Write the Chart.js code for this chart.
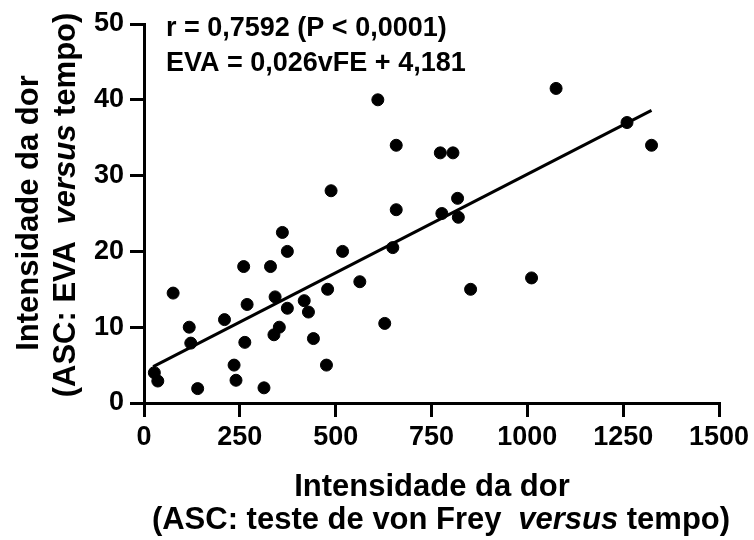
<!DOCTYPE html>
<html lang="pt">
<head>
<meta charset="UTF-8">
<title>Intensidade da dor</title>
<script src="https://cdn.jsdelivr.net/npm/chart.js"></script>
<style>
  html, body { margin: 0; padding: 0; background: #fff; }
  #chart { display: block; }
</style>
</head>
<body>
<canvas id="chart" width="754" height="540"></canvas>
<script>
// dados: vFE (x) e EVA (y)
const vfe = [27, 36, 76, 118, 122, 140, 210, 235, 240, 260, 269, 263, 313, 330, 361,
             374, 342, 374, 353, 339, 418, 429, 442, 479, 476, 518, 488, 658, 649, 563,
             852, 628, 777, 818, 820, 773, 806, 610, 658, 1075, 1260, 1324, 1011];
const eva = [4, 2.9, 14.5, 10, 7.9, 1.9, 11, 5, 3, 18, 13, 8, 2, 18, 22.5,
             20, 14, 12.5, 10, 9, 13.5, 12, 8.5, 15, 5, 20, 28, 25.5, 20.5, 16,
             15, 10.5, 25, 27, 24.5, 33, 33, 40, 34, 41.5, 37, 34, 16.5];
// reta de regressão (extremos)
const lineX = [24, 1324];
const lineY = [4.8, 38.6];
const xTicks = [0, 250, 500, 750, 1000, 1250, 1500];
const yTicks = [0, 10, 20, 30, 40, 50];
const stats = ['r = 0,7592 (P < 0,0001)', 'EVA = 0,026vFE + 4,181'];

const FONT = '"Liberation Sans", Arial, Helvetica, sans-serif';

const points = vfe.map((v, i) => ({ x: v, y: eva[i] }));
const fit = lineX.map((v, i) => ({ x: v, y: lineY[i] }));

// desenha uma linha com partes em itálico, centrada em (0,0)
function mixedLine(ctx, parts, size) {
  let total = 0;
  const widths = parts.map(p => {
    ctx.font = (p.i ? 'italic ' : '') + 'bold ' + size + 'px ' + FONT;
    const w = ctx.measureText(p.t).width + (p.gap || 0);
    total += w;
    return w;
  });
  let x = -total / 2;
  parts.forEach((p, k) => {
    ctx.font = (p.i ? 'italic ' : '') + 'bold ' + size + 'px ' + FONT;
    ctx.fillText(p.t, x + (p.gap || 0), 0);
    x += widths[k];
  });
}

const labels = {
  id: 'labels',
  afterDraw(chart) {
    const ctx = chart.ctx;
    ctx.save();
    ctx.fillStyle = '#000';
    ctx.textBaseline = 'alphabetic';
    ctx.textAlign = 'left';

    // texto estatístico
    ctx.font = 'bold 27px ' + FONT;
    ctx.fillText(stats[0], 166, 36);
    ctx.fillText(stats[1], 166, 71);

    // título eixo x
    ctx.save();
    ctx.translate(432, 496);
    mixedLine(ctx, [{ t: 'Intensidade da dor' }], 31);
    ctx.restore();
    ctx.save();
    ctx.translate(441, 529);
    mixedLine(ctx, [{ t: '(ASC: teste de von Frey ' }, { t: 'versus', i: true, gap: 8 }, { t: ' tempo)' }], 31);
    ctx.restore();

    // título eixo y
    ctx.save();
    ctx.translate(38, 213);
    ctx.rotate(-Math.PI / 2);
    mixedLine(ctx, [{ t: 'Intensidade da dor' }], 31);
    ctx.restore();
    ctx.save();
    ctx.translate(75, 205);
    ctx.rotate(-Math.PI / 2);
    mixedLine(ctx, [{ t: '(ASC: EVA ' }, { t: 'versus', i: true, gap: 8 }, { t: ' tempo)' }], 31);
    ctx.restore();

    ctx.restore();
  }
};

const tickFont = { family: FONT, size: 27, weight: 'bold' };

new Chart(document.getElementById('chart'), {
  type: 'scatter',
  data: {
    datasets: [{
      data: points,
      backgroundColor: '#000',
      borderColor: '#000',
      pointRadius: 6,
      pointHoverRadius: 6
    }, {
      data: fit,
      showLine: true,
      borderColor: '#000',
      borderWidth: 3,
      pointRadius: 0
    }]
  },
  options: {
    responsive: false,
    animation: false,
    layout: { padding: { top: 24, right: 35, left: 0, bottom: 0 } },
    plugins: { legend: { display: false }, tooltip: { enabled: false } },
    scales: {
      x: {
        type: 'linear',
        min: 0, max: 1500,
        afterFit(s) { s.height = 137; },
        afterBuildTicks(s) { s.ticks = xTicks.map(v => ({ value: v })); },
        grid: { drawOnChartArea: false, tickLength: 14, lineWidth: 3, color: '#000' },
        border: { color: '#000', width: 3 },
        ticks: { color: '#000', padding: 4, maxRotation: 0, font: tickFont, callback: v => String(v) }
      },
      y: {
        type: 'linear',
        min: 0, max: 50,
        afterFit(s) { s.width = 144; },
        afterBuildTicks(s) { s.ticks = yTicks.map(v => ({ value: v })); },
        grid: { drawOnChartArea: false, tickLength: 14, lineWidth: 3, color: '#000' },
        border: { color: '#000', width: 3 },
        ticks: { color: '#000', padding: 6, font: tickFont, callback: v => String(v) }
      }
    }
  },
  plugins: [labels]
});
</script>
</body>
</html>
